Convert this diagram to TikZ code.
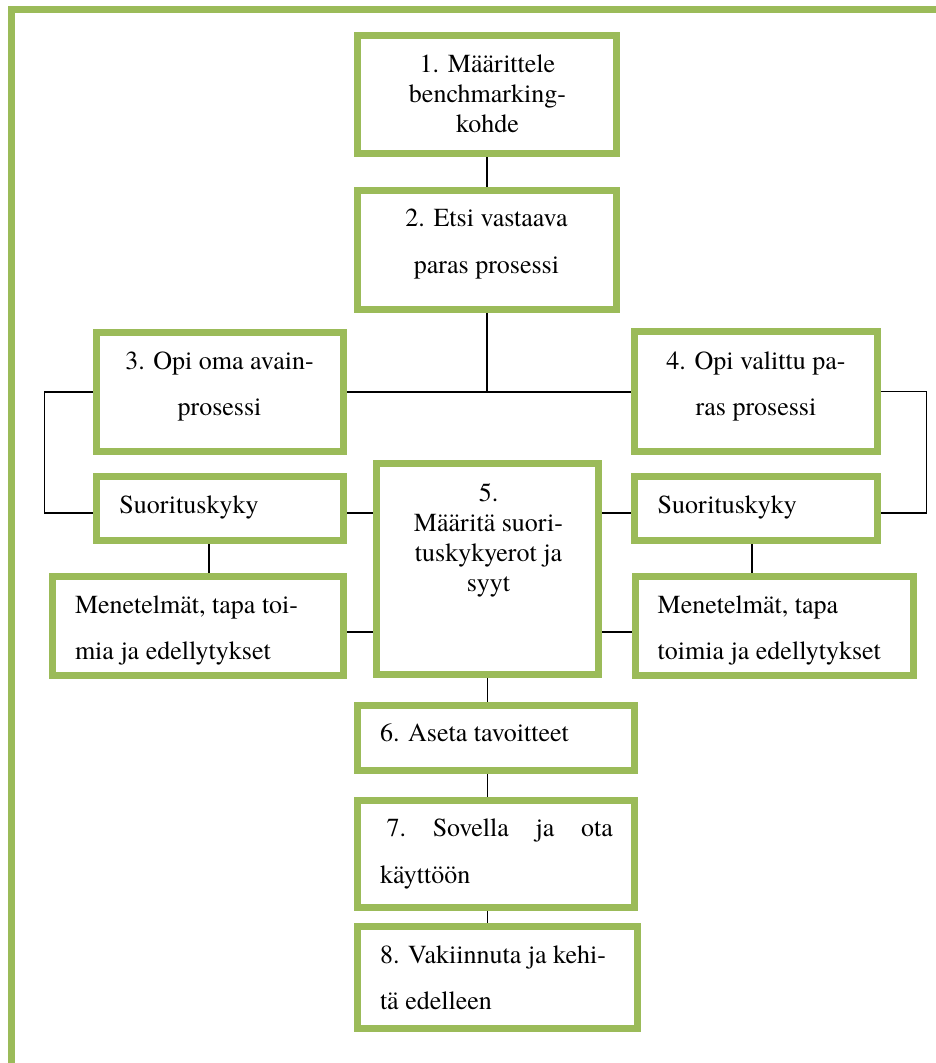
\documentclass[tikz,border=0pt]{standalone}
\usepackage{fontspec}
\setmainfont{TeX Gyre Termes}
\usetikzlibrary{backgrounds}
\definecolor{olive}{HTML}{9BBB59}
\tikzset{
  box/.style={draw=olive, line width=7pt, fill=white, rectangle, inner sep=0pt, outer sep=0pt},
  conn/.style={draw=black, line width=1.3pt},
  txt/.style={inner sep=0pt, outer sep=0pt, font=\fontsize{26}{30}\selectfont},
  txtw/.style={inner sep=0pt, outer sep=0pt, font=\fontsize{26}{46.5}\selectfont},
  frame/.style={draw=olive, line width=7pt}
}
\begin{document}
\begin{tikzpicture}[x=1pt,y=-1pt]
\useasboundingbox (0,0) rectangle (936,1063);
% outer frame
\draw[frame] (8,9.5) -- (936,9.5);
\draw[frame] (11.5,6) -- (11.5,1063);
% boxes
\node[box, minimum width=259pt, minimum height=118pt] (b1) at (487,94.5) {};
\node[box, minimum width=259pt, minimum height=119pt] (b2) at (487,250) {};
\node[box, minimum width=247pt, minimum height=119pt] (b3) at (220,392) {};
\node[box, minimum width=243pt, minimum height=120pt] (b4) at (756,391.5) {};
\node[box, minimum width=247pt, minimum height=64pt] (s3) at (220,508.5) {};
\node[box, minimum width=243pt, minimum height=64pt] (s4) at (756,508.5) {};
\node[box, minimum width=291pt, minimum height=99pt] (m3) at (198,626) {};
\node[box, minimum width=278pt, minimum height=99pt] (m4) at (774.5,626) {};
\node[box, minimum width=222pt, minimum height=211pt] (b5) at (487.5,569) {};
\node[box, minimum width=277pt, minimum height=65pt] (b6) at (496,738) {};
\node[box, minimum width=277pt, minimum height=107pt] (b7) at (496,854) {};
\node[box, minimum width=280pt, minimum height=102pt] (b8) at (497.5,977.5) {};
% texts
\node[txt, align=center, anchor=north] (t1) at (487.5,51.7)
  {1. Määrittele\strut\\benchmarking-\strut\\kohde\strut};
\node[txtw, align=center, anchor=north] (t2) at (486.5,194.2)
  {2. Etsi vastaava\strut\\paras prosessi\strut};
\node[txtw, align=center, anchor=north] (t3) at (219.5,336.8)
  {3. Opi oma avain-\strut\\prosessi\strut};
\node[txtw, align=center, anchor=north] (t4) at (756,336.8)
  {4. Opi valittu pa-\strut\\ras prosessi\strut};
\node[txt, anchor=base west] (ts3) at (119.3,513.3) {Suorituskyky};
\node[txt, anchor=base west] (ts4) at (657.7,513.3) {Suorituskyky};
\node[txtw, align=left, anchor=north west] (tm3) at (75,580.8)
  {Menetelmät, tapa toi-\strut\\mia ja edellytykset\strut};
\node[txtw, align=left, anchor=north west] (tm4) at (657.7,580.8)
  {Menetelmät, tapa\strut\\toimia ja edellytykset\strut};
\node[txt, align=center, anchor=north] (t5) at (488.5,480)
  {5.\strut\\Määritä suori-\strut\\tuskykyerot ja\strut\\syyt\strut};
\node[txt, anchor=base west] (t6) at (380,741.7) {6. Aseta tavoitteet};
\node[txtw, align=left, anchor=north west] (t7) at (380,804.2)
  {\makebox[233pt][s]{\hspace*{6.5pt}7.\hfill Sovella\hfill ja\hfill ota}\strut\\käyttöön\strut};
\node[txtw, align=left, anchor=north west] (t8) at (380,930.8)
  {8. Vakiinnuta ja kehi-\strut\\tä edelleen\strut};
% connector helper points
\coordinate (ls) at ([yshift=-4.5pt]s3.east);
\coordinate (lw) at ([yshift=-4.5pt]s3.west);
\coordinate (lm) at ([yshift=-6pt]m3.east);
\coordinate (lv) at ([xshift=-11pt]s3.south);
\coordinate (rs) at ([yshift=-4.5pt]s4.west);
\coordinate (re) at ([yshift=-4.5pt]s4.east);
\coordinate (rm) at ([yshift=-6pt]m4.west);
\coordinate (rv) at ([xshift=-4pt]s4.south);
\coordinate (lb) at ([xshift=-52pt]b3.west);
\coordinate (rb) at ([xshift=49pt]b4.east);
\begin{scope}[on background layer]
\fill[white] (0,0) rectangle (936,1063);
\draw[conn] (b1.south) -- (b2.north);
\draw[conn] (b2.south) -- (b2.south |- b3.east);
\draw[conn] (b3.east) -- (b3.east -| b4.west);
\draw[conn] (b3.west) -- (lb) |- (lw);
\draw[conn] (ls) -- (ls -| b5.west);
\draw[conn] (lm) -- (lm -| b5.west);
\draw[conn] (lv) -- (lv |- m3.north);
\draw[conn] (b4.east) -- (rb) |- (re);
\draw[conn] (rs) -- (rs -| b5.east);
\draw[conn] (rm) -- (rm -| b5.east);
\draw[conn] (rv) -- (rv |- m4.north);
\draw[conn] (b5.south) -- (b5.south |- b6.north);
\draw[conn] (b5.south |- b6.south) -- (b5.south |- b7.north);
\draw[conn] (b5.south |- b7.south) -- (b5.south |- b8.north);
\end{scope}
\end{tikzpicture}
\end{document}
